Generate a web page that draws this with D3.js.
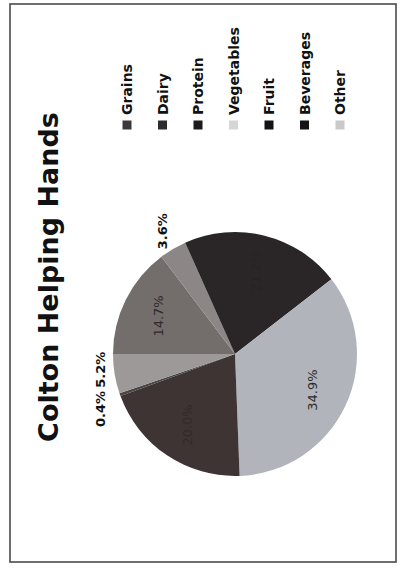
<!DOCTYPE html>
<html>
<head>
<meta charset="utf-8">
<script src="https://cdn.jsdelivr.net/npm/d3@7"></script>
<style>
  html, body { margin: 0; padding: 0; background: #ffffff; }
  svg { display: block; }
</style>
</head>
<body>
<div id="chart"></div>
<script>
// ---- data ----
const title = "Colton Helping Hands";
const categories = ["Grains", "Dairy", "Protein", "Vegetables", "Fruit", "Beverages", "Other"];
const values = [14.7, 3.6, 21.2, 34.9, 20.0, 0.4, 5.2];
const valueLabels = ["14.7%", "3.6%", "21.2%", "34.9%", "20.0%", "0.4%", "5.2%"];

// ---- styles ----
const sliceColors = ["#736d6b", "#8c8786", "#2a2628", "#b1b4ba", "#3d3433", "#4a4646", "#9d9999"];
const markerColors = ["#3a3838", "#2e2c2c", "#1c1a1a", "#d6d6d6", "#141212", "#141212", "#c9c9c9"];
const insideTextColors = ["#2f2b2a", "#222", "#272325", "#2b2b2e", "#332b2a", "#222", "#222"];

const PAGE_W = 401, PAGE_H = 571;   // rotated page
const W = 571, H = 401;             // upright chart frame

const svg = d3.select("#chart").append("svg")
  .attr("width", PAGE_W).attr("height", PAGE_H);

svg.append("rect").attr("width", PAGE_W).attr("height", PAGE_H).attr("fill", "#fff");

// whole chart is printed rotated 90° counter-clockwise
const g = svg.append("g").attr("transform", `translate(0,${PAGE_H}) rotate(-90)`);

// frame
g.append("rect")
  .attr("x", 9).attr("y", 10).attr("width", 558).attr("height", 386)
  .attr("fill", "none").attr("stroke", "#4a4a4a").attr("stroke-width", 1.6);

// title
g.append("text")
  .attr("x", 294).attr("y", 58)
  .attr("text-anchor", "middle")
  .attr("font-family", "DejaVu Sans")
  .attr("font-weight", "bold")
  .attr("font-size", 27)
  .attr("fill", "#111")
  .text(title);

// pie
const cx = 217, cy = 235, r = 122;
const pie = d3.pie().sort(null).value(d => d.value).startAngle(0).endAngle(2 * Math.PI);
const data = categories.map((c, i) => ({ name: c, value: values[i], label: valueLabels[i], i }));
const arcs = pie(data);
const arc = d3.arc().innerRadius(0).outerRadius(r);
const labelArc = d3.arc().innerRadius(r * 0.7).outerRadius(r * 0.7);
const outerLabelArc = d3.arc().innerRadius(r * 1.17).outerRadius(r * 1.17);

const pieG = g.append("g").attr("transform", `translate(${cx},${cy})`);
pieG.selectAll("path.slice").data(arcs).enter().append("path")
  .attr("class", "slice")
  .attr("d", arc)
  .attr("fill", d => sliceColors[d.data.i]);

// labels: small slices outside, others inside
const SMALL = 6;
const inside = arcs.filter(d => d.data.value >= SMALL);
const outside = arcs.filter(d => d.data.value < SMALL);

pieG.selectAll("text.in").data(inside).enter().append("text")
  .attr("class", "in")
  .attr("transform", d => `translate(${labelArc.centroid(d)})`)
  .attr("text-anchor", "middle")
  .attr("dy", "0.35em")
  .attr("font-family", "DejaVu Sans")
  .attr("font-size", 13)
  .attr("fill", d => insideTextColors[d.data.i])
  .text(d => d.data.label);

// outside label positions with simple horizontal collision avoidance
const outPos = outside.map(d => {
  const [x, y] = outerLabelArc.centroid(d);
  return { d, x, y, w: d.data.label.length * 8.6 };
});
outPos.sort((a, b) => a.x - b.x);
for (let k = 1; k < outPos.length; k++) {
  const a = outPos[k - 1], b = outPos[k];
  if (Math.abs(a.y - b.y) < 16) {
    const need = (a.w + b.w) / 2 + 5 - (b.x - a.x);
    if (need > 0) { a.x -= need / 2; b.x += need / 2; }
    a.y = b.y = Math.max(a.y, b.y);
  }
}
pieG.selectAll("text.out").data(outPos).enter().append("text")
  .attr("class", "out")
  .attr("x", p => p.x).attr("y", p => p.y)
  .attr("text-anchor", "middle")
  .attr("dy", "0.35em")
  .attr("font-family", "DejaVu Sans")
  .attr("font-weight", "bold")
  .attr("font-size", 13)
  .attr("fill", "#111")
  .text(p => p.d.data.label);

// legend
const legendY = d3.scalePoint().domain(categories).range([127, 340]);
const legX = 446;
const leg = g.append("g");
const items = leg.selectAll("g.item").data(data).enter().append("g")
  .attr("class", "item")
  .attr("transform", d => `translate(${legX},${legendY(d.name)})`);
items.append("rect")
  .attr("x", -4.5).attr("y", -4.5).attr("width", 9).attr("height", 9)
  .attr("fill", d => markerColors[d.i]);
items.append("text")
  .attr("x", 10).attr("y", 0).attr("dy", "0.36em")
  .attr("font-family", "DejaVu Sans")
  .attr("font-weight", "bold")
  .attr("font-size", 14)
  .attr("fill", "#111")
  .text(d => d.name);
</script>
</body>
</html>
